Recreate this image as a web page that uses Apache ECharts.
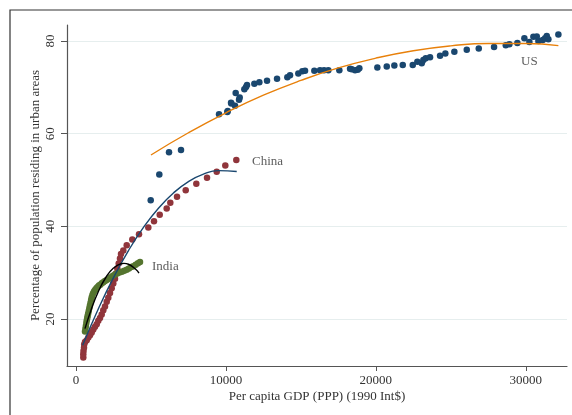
<!DOCTYPE html>
<html>
<head>
<meta charset="utf-8">
<script src="https://cdn.jsdelivr.net/npm/echarts@6/dist/echarts.min.js"></script>
<style>
html,body{margin:0;padding:0;background:#fff;}
#c{width:572px;height:415px;}
</style>
</head>
<body>
<div id="c"></div>
<script>
const xTicks = [0, 10000, 20000, 30000];
const yTicks = [20, 40, 60, 80];

const usPoints = [[4983,45.6],[5557,51.2],[6204,56.0],[7005,56.45],[9540,64.2],[10094,64.7],[10120,64.9],[10340,66.7],[10363,66.5],[10607,66.0],[10652,68.8],[10874,67.3],[10918,67.8],[11230,69.6],[11341,70.1],[11408,70.5],[11897,70.8],[12230,71.1],[12741,71.4],[13409,71.85],[14096,72.2],[14276,72.6],[14830,73.0],[15097,73.5],[15277,73.6],[15897,73.6],[16277,73.7],[16544,73.7],[16831,73.7],[17565,73.7],[18280,74.0],[18392,73.9],[18612,73.7],[18790,73.8],[18899,74.1],[20100,74.3],[20727,74.5],[21234,74.7],[21794,74.8],[22461,74.8],[22768,75.5],[23062,75.2],[23169,75.9],[23329,76.3],[23616,76.5],[24283,76.8],[24636,77.3],[25237,77.7],[26064,78.1],[26865,78.4],[27885,78.7],[28666,79.1],[28906,79.3],[29440,79.6],[29907,80.6],[30240,79.8],[30507,80.9],[30734,81.0],[30841,80.0],[31134,80.2],[31288,80.6],[31401,81.1],[31508,80.4],[32175,81.4]];

const chinaPoints = [[487,11.65],[487,12.4],[500,13.1],[534,13.8],[545,14.5],[600,15.0],[714,15.4],[821,16.0],[934,16.5],[1047,17.05],[1154,17.7],[1267,18.3],[1381,18.85],[1488,19.6],[1601,20.2],[1714,20.95],[1821,21.9],[1935,22.7],[2048,23.7],[2155,24.6],[2268,25.6],[2381,26.6],[2488,27.65],[2602,28.7],[2668,29.8],[2755,30.9],[2849,31.95],[2935,33.05],[3002,34.0],[3155,34.8],[3382,35.9],[3756,37.15],[4203,38.3],[4823,39.75],[5203,41.1],[5584,42.5],[6050,43.85],[6291,45.1],[6738,46.4],[7318,47.8],[8025,49.2],[8739,50.5],[9386,51.8],[9960,53.1],[10694,54.3]];

const indiaPoints = [[600,17.3],[630,17.9],[660,18.5],[690,19.1],[720,19.7],[750,20.2],[780,20.7],[810,21.1],[850,21.7],[890,22.3],[930,22.9],[970,23.5],[1010,24.1],[1050,24.7],[1100,25.2],[1150,25.6],[1210,26.0],[1280,26.3],[1360,26.6],[1440,26.9],[1530,27.2],[1620,27.4],[1720,27.7],[1820,27.9],[1930,28.2],[2050,28.4],[2180,28.7],[2320,29.0],[2460,29.3],[2600,29.6],[2750,29.8],[2900,30.0],[3060,30.2],[3220,30.4],[3380,30.6],[3530,30.9],[3680,31.2],[3830,31.4],[3980,31.7],[4130,32.0],[4270,32.3]];

const usFit = [[5000,55.4],[7500,60.2],[10000,64.5],[12500,68.3],[15000,71.5],[17500,74.2],[20000,76.3],[22500,77.9],[25000,78.95],[27500,79.48],[30000,79.46],[32175,79.0]];
const chinaFit = [[444,14.3],[1500,22.26],[2500,28.93],[3500,34.76],[4500,39.75],[5500,43.9],[6500,47.2],[7500,49.65],[8500,51.26],[9500,52.03],[10721,51.83]];
const indiaFit = [[600,17.9],[1000,21.9],[1500,25.97],[2000,29.0],[2500,30.98],[3000,31.92],[3200,32.0],[3500,31.81],[4000,30.66],[4200,29.9]];

const labelNames = ['US', 'China', 'India'];
const labelAnchors = [[29690,75.46],[11741,54.07],[5070,31.38]];

const FONT = 'Liberation Serif';
const TXT = '#333';

const chart = echarts.init(document.getElementById('c'), null, {renderer:'canvas'});

const scat = (name, data, color) => ({
  name, type:'scatter', data, symbolSize:6.5, silent:true,
  itemStyle:{color, opacity:1}, z:3
});
const fit = (name, data, color) => ({
  name, type:'line', data, smooth:true, showSymbol:false, symbol:'none', silent:true,
  lineStyle:{color, width:1.4}, z:4
});

chart.setOption({
  animation:false,
  backgroundColor:'#fff',
  textStyle:{fontFamily:FONT},
  graphic:[{type:'rect', shape:{x:10,y:10,width:700,height:600}, style:{fill:null, stroke:'#333', lineWidth:1.2}, z:-10}],
  grid:{left:67, top:25, right:5, bottom:49, containLabel:false},
  xAxis:{
    type:'value', min:-600, max:32750,
    name:'Per capita GDP (PPP) (1990 Int$)', nameLocation:'middle', nameGap:24, nameMoveOverlap:false,
    nameTextStyle:{fontFamily:FONT, fontSize:13, color:TXT},
    axisLine:{show:true, onZero:false, lineStyle:{color:'#555', width:1.2}},
    axisTick:{show:true, length:5, lineStyle:{color:'#555'}, customValues:xTicks},
    axisLabel:{fontFamily:FONT, fontSize:13, color:TXT, margin:8, customValues:xTicks, formatter:v=>String(v)},
    splitLine:{show:false}
  },
  yAxis:{
    type:'value', min:9.84, max:83.46,
    name:'Percentage of population residing in urban areas', nameLocation:'middle', nameGap:25, nameMoveOverlap:false,
    nameTextStyle:{fontFamily:FONT, fontSize:13, color:TXT},
    axisLine:{show:true, onZero:false, lineStyle:{color:'#555', width:1.2}},
    axisTick:{show:true, length:6, lineStyle:{color:'#555'}, customValues:yTicks},
    axisLabel:{fontFamily:FONT, fontSize:13, color:TXT, rotate:90, margin:10, customValues:yTicks},
    splitLine:{show:true, lineStyle:{color:'#e6eeee', width:1.2}}
  },
  series:[
    scat('US', usPoints, '#1a476f'),
    scat('China', chinaPoints, '#90353b'),
    scat('India', indiaPoints, '#55752f'),
    fit('US fit', usFit, '#e8800a'),
    fit('China fit', chinaFit, '#1a476f'),
    fit('India fit', indiaFit, '#000'),
    {
      type:'scatter', silent:true, symbolSize:0, z:5,
      data: labelAnchors.map((p,i)=>({value:p, name:labelNames[i]})),
      label:{show:true, position:'right', distance:0, formatter:p=>p.name, fontFamily:FONT, fontSize:13, color:TXT}
    }
  ]
});
</script>
</body>
</html>
